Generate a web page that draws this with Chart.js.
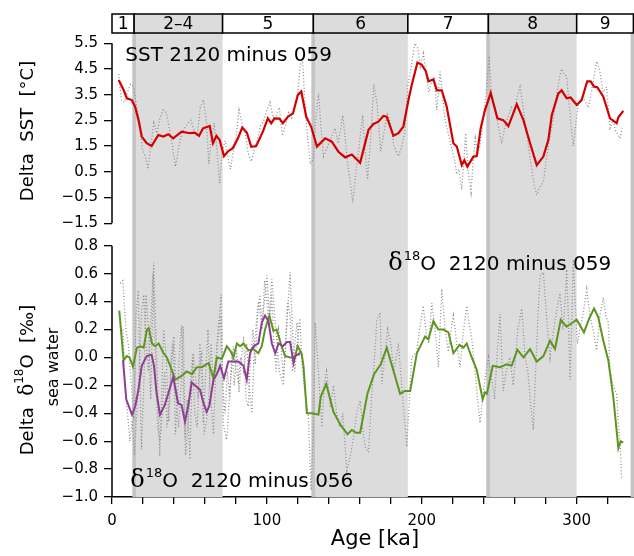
<!DOCTYPE html>
<html>
<head>
<meta charset="utf-8">
<script src="https://cdn.jsdelivr.net/npm/chart.js@4.4.1/dist/chart.umd.min.js"></script>
<style>
  body { margin: 0; background: #fff; }
  canvas { display: block; }
</style>
</head>
<body>
<canvas id="paleoChart" width="634" height="556"></canvas>
<script>
// ---------- data (age in ka, value) ----------
const sstSmooth = [[4.3,4.07],[7.5,3.68],[9.6,3.36],[12.8,3.29],[14.9,3.03],[17.1,2.52],[19.2,1.87],[22.4,1.61],[25.6,1.5],[29.9,1.93],[33.1,1.87],[36.3,1.96],[39.5,1.8],[44.9,2.06],[50.2,2.0],[53.4,2.02],[56.2,1.9],[58.8,2.19],[63.1,2.28],[65.2,1.61],[67.4,1.9],[69.5,1.74],[72.3,1.11],[74.8,1.29],[78,1.42],[81.3,1.8],[84.1,2.22],[87.1,2.02],[89.9,1.47],[93.1,1.5],[97.4,2.06],[100.6,2.58],[102.8,2.39],[104.9,2.58],[108.1,2.57],[110.3,2.39],[113.5,2.64],[116.8,2.77],[120,3.49],[122.2,3.62],[125.4,2.64],[128.6,2.25],[132.3,1.48],[137.6,1.8],[141.9,1.67],[146.2,1.28],[150.5,1.06],[154.8,1.17],[160.2,0.85],[165.6,2.13],[168.8,2.36],[172,2.45],[175.2,2.67],[177.4,2.64],[181.7,1.9],[184.9,2.0],[188.1,2.26],[191.4,3.29],[193.5,3.88],[197.2,4.75],[200,4.66],[202.6,4.41],[204.3,4.02],[207.5,4.09],[209.7,3.67],[212.9,3.67],[216.1,3.03],[220.4,1.61],[222.6,1.48],[225.8,0.76],[227.5,0.95],[229.4,0.7],[233.3,1.09],[235.5,1.11],[238,2.19],[240.8,2.9],[244.5,3.57],[248.8,2.58],[252.6,2.51],[255.9,2.28],[261.3,3.13],[265.6,2.51],[269.9,1.61],[274.2,0.76],[278.5,1.09],[281.7,1.74],[283.9,2.7],[288.1,3.54],[290.3,3.67],[293.5,3.36],[296.1,3.39],[300,3.1],[303.2,3.29],[306.8,4.02],[309,4.02],[311.2,3.81],[313.3,3.79],[317.2,3.42],[321.5,2.58],[325.8,2.39],[326.9,2.62],[330.1,2.87]];

const sstRaw = [[4.3,4.3],[6,3.3],[8,3.2],[10,3.6],[12,3.9],[14,3.8],[16,3.0],[18,2.4],[19.5,1.4],[21.5,1.1],[23.2,0.6],[25,1.5],[27,2.4],[29,2.0],[31,2.6],[33,2.9],[35,2.8],[37,2.2],[39,1.5],[41,0.7],[43,1.4],[45,2.0],[47,2.2],[49,2.4],[51,2.5],[53,2.1],[55,1.9],[57,3.0],[59,3.3],[61,2.4],[62.5,0.8],[64,1.8],[66,2.4],[68,1.2],[69.5,0.05],[71,1.2],[73,1.7],[75,1.0],[76.5,0.6],[78,1.2],[80,1.8],[82,2.9],[84,2.4],[86,2.0],[88,1.2],[90,0.9],[92,1.4],[94,1.8],[96,2.3],[98,2.5],[100,2.9],[102,3.2],[104,2.6],[106,2.7],[108,3.0],[110,1.9],[112,2.3],[114,2.8],[116,2.6],[118,3.0],[120,3.6],[121.5,4.6],[123,4.9],[124.5,3.2],[126,2.0],[128,0.8],[130,1.0],[131.5,2.5],[133.3,3.55],[135,2.2],[136.5,1.1],[138,1.3],[140,1.6],[142,1.9],[144,2.2],[146,1.6],[148,2.3],[149,2.7],[150.5,1.8],[152.2,0.8],[154,0.0],[155.4,-0.7],[157.5,0.5],[159,1.2],[161.8,2.7],[163.5,1.3],[165,0.2],[167,1.8],[169,3.9],[171,3.2],[173.5,1.3],[175.5,2.0],[177.8,2.8],[180,2.3],[182,1.5],[185,1.1],[187,1.5],[189,2.0],[191,3.9],[193,4.5],[195.5,5.5],[197.5,5.3],[199,4.6],[201,5.1],[203,4.2],[204.5,3.6],[206,3.9],[208,4.2],[209.7,2.9],[211.8,4.4],[213.5,3.4],[215,2.5],[217,2.0],[219,1.5],[221,1.0],[222.6,0.4],[224,0.6],[225.8,-0.2],[227,0.8],[228.3,2.0],[230,0.5],[231.8,-0.3],[233,0.8],[234.5,1.8],[236,1.2],[237.5,1.5],[239,2.2],[240.5,3.0],[242,3.9],[243.5,5.0],[245,3.5],[247,3.0],[249,2.4],[251.5,1.6],[253.5,2.2],[256,2.7],[258,3.0],[260,2.8],[261.5,3.4],[263.4,3.8],[265,3.2],[267,2.3],[268.6,1.6],[270.5,0.8],[272.5,0.0],[274.2,-0.4],[276,-0.1],[278.5,0.1],[280.5,1.0],[282.8,1.9],[285,2.6],[287,3.5],[289,4.2],[290.3,4.5],[292,4.3],[293.5,4.2],[295,3.2],[296.5,2.2],[297.8,1.5],[299.5,2.4],[301,3.1],[303,3.3],[305,3.3],[307.5,3.0],[309.5,3.6],[311.5,4.3],[313.1,4.8],[315,4.4],[317,3.6],[319.3,3.8],[321.5,2.2],[323.5,2.5],[325,2.1],[327,1.9],[328,1.8],[329.6,2.3]];

const d18o059Smooth = [[4.7,0.335],[7.5,-0.02],[9.6,0.01],[11.3,0.0],[13.5,-0.065],[16.1,0.07],[18.3,0.08],[20.4,0.07],[22.6,0.2],[23.7,0.21],[25.8,0.1],[27.9,0.08],[30.1,0.1],[33.3,0.03],[35.4,0.0],[37.6,-0.06],[40.8,-0.16],[45.1,-0.13],[48.3,-0.1],[51.6,-0.12],[54.8,-0.07],[58,-0.07],[62.3,-0.04],[65.5,-0.15],[67.7,0.0],[70.9,-0.01],[74.1,0.08],[76.3,0.05],[78.4,0.0],[80.6,0.1],[82.7,0.08],[84.9,0.1],[88.1,0.05],[91.3,0.06],[94.5,0.03],[96.7,0.08],[98.8,0.2],[101.6,0.3],[104.2,0.19],[106.3,0.2],[109.5,0.08],[111.7,0.01],[114.9,0.0],[118.1,0.0],[119.8,0.08],[122.4,0.03],[123.6,-0.06],[125.8,-0.4],[129,-0.4],[133.3,-0.41],[134.8,-0.28],[138.3,-0.19],[143,-0.39],[147.3,-0.48],[152,-0.55],[154.8,-0.52],[157.6,-0.54],[160.2,-0.54],[164.9,-0.26],[169.2,-0.12],[173.5,-0.05],[177.4,0.07],[186,-0.26],[189.2,-0.24],[192.5,-0.24],[196.8,0.03],[202.1,0.15],[204.3,0.13],[207.5,0.26],[210.7,0.2],[213.9,0.2],[217.2,0.18],[220.4,0.03],[224.3,0.09],[226.9,0.07],[229,0.1],[231.2,0.03],[235.5,-0.09],[239.3,-0.3],[240.8,-0.25],[242,-0.26],[245.8,-0.06],[250.5,-0.07],[254.8,-0.05],[258,-0.06],[261.7,0.055],[265.6,0.0],[269.9,0.06],[274.2,-0.03],[278.5,0.01],[282.8,0.12],[286,0.06],[289.7,0.27],[293.5,0.22],[300,0.27],[304.7,0.18],[308.1,0.28],[311.2,0.35],[313.9,0.29],[317.2,0.12],[320.4,-0.02],[323.6,-0.28],[326.9,-0.65],[328.4,-0.6],[330,-0.61]];

const d18o056Smooth = [[7.1,-0.02],[9.2,-0.3],[12.9,-0.41],[15,-0.35],[17.1,-0.23],[19.2,-0.06],[22.4,0.01],[25.6,0.02],[27.1,-0.06],[28.8,-0.26],[31,-0.41],[34.1,-0.34],[36.3,-0.26],[39.5,-0.14],[42.7,-0.33],[44.9,-0.34],[47.1,-0.46],[49.2,-0.35],[51.4,-0.18],[54.6,-0.21],[56.8,-0.23],[58.9,-0.32],[61.1,-0.39],[62.8,-0.35],[65.5,-0.16],[67.7,-0.12],[69.8,-0.06],[72.3,-0.15],[75.1,-0.03],[78.4,-0.03],[81.6,-0.03],[84.9,-0.06],[87,-0.16],[89.1,0.03],[91.3,0.08],[94.5,0.1],[96.7,0.25],[98.8,0.3],[101,0.26],[103.2,0.1],[105.4,0.03],[107.5,0.1],[110.3,0.08],[112.9,0.11],[115,0.11],[117.2,-0.04],[118.3,0.01],[121.5,0.03]];

const d18o059Raw = [[5.3,0.53],[7,0.55],[9,0.2],[10.7,0.08],[12.5,-0.2],[14,-0.45],[15.5,0.3],[17,0.48],[18,-0.1],[19,-0.66],[20.5,-0.2],[22,0.45],[23.5,0.2],[25,-0.3],[26.9,0.68],[28,0.3],[29.5,-0.2],[30.8,-0.71],[32,-0.3],[33.3,0.2],[35,0.0],[36.6,-0.46],[38,-0.1],[39.5,0.1],[41,-0.55],[42.5,-0.2],[44,0.1],[45,0.23],[46,-0.2],[47.1,-0.59],[48.5,-0.3],[50.3,-0.73],[51.5,-0.2],[52.4,0.03],[54,-0.15],[55.5,-0.3],[56.8,0.1],[58,-0.2],[58.9,-0.47],[60.5,-0.1],[62,0.2],[63.2,-0.2],[65.5,-0.55],[67,-0.1],[68.5,0.2],[70.5,0.45],[72,-0.49],[74.1,-0.59],[76.3,-0.2],[78.4,0.08],[80,-0.1],[81.6,-0.17],[83,0.0],[85,-0.1],[87,0.1],[88.5,-0.2],[90.3,-0.4],[92,0.1],[94.5,0.4],[96.7,0.25],[98.5,0.4],[100,0.59],[101.5,0.3],[103.2,0.56],[105,0.3],[106.5,0.1],[108,-0.1],[110.7,-0.2],[112.5,0.2],[115,0.61],[116.5,0.2],[118,-0.1],[119.5,0.1],[121.3,0.28],[122.4,0.0],[124,-0.2],[126.8,-0.42],[128.5,-0.95],[130,-0.5],[131.2,0.25],[133.3,-0.11],[135.5,-0.5],[137,-0.2],[138.5,-0.1],[141,-0.36],[143,-0.2],[145,-0.4],[147,-0.5],[149,-0.4],[151.6,-0.81],[153.8,-0.71],[156,-0.57],[158,-0.4],[160.2,-0.31],[161.8,-0.5],[163.4,-0.64],[165.6,-0.68],[167.5,-0.3],[169.5,0.0],[171,0.27],[173.1,0.32],[174.2,-0.19],[176,0.0],[178,0.2],[180,0.1],[182,-0.1],[184.9,0.1],[187,-0.2],[188.5,-0.4],[190.3,-0.64],[192,-0.3],[193.5,0.0],[196.8,0.04],[198.5,0.2],[201,0.37],[203,0.15],[204.5,0.1],[206.5,0.39],[208.5,0.2],[210.7,-0.07],[212.9,0.49],[215,0.2],[217.2,0.04],[219,0.2],[220.4,0.3],[222.5,0.1],[224.7,-0.07],[227,0.2],[229,0.37],[230.5,0.25],[232.3,0.13],[234.4,-0.1],[236,-0.3],[237.6,-0.47],[239.7,-0.25],[241.5,-0.1],[243,0.0],[245,-0.15],[247,-0.3],[248.5,0.0],[250.5,0.31],[252.6,-0.24],[254.5,-0.1],[256.9,0.0],[259,-0.2],[260.5,0.0],[262,0.2],[264.5,0.35],[266.7,0.0],[268.5,-0.1],[270,-0.3],[272,-0.52],[273.5,-0.1],[275,0.3],[276.3,0.58],[278.5,0.61],[280.5,0.3],[282.8,0.0],[284.5,0.15],[286.5,0.3],[289.2,0.46],[291,0.2],[292.5,0.4],[293.5,0.63],[294.6,0.3],[295.7,-0.16],[297,0.3],[297.8,0.7],[299,0.4],[300.5,0.1],[302,0.2],[304,0.3],[306.5,0.49],[308.5,0.3],[310.5,0.2],[312.9,0.05],[315,0.3],[317.2,0.43],[318.8,0.3],[320.4,0.25],[321.5,-0.1],[323.5,-0.2],[325.8,-0.26],[327,-0.5],[328,-0.6],[329,-0.87]];

const d18o056Raw = [[7,0.2],[8.5,-0.2],[10,-0.4],[11.5,-0.6],[13,-0.45],[14.5,-0.7],[16,-0.4],[17.5,-0.1],[19,0.3],[20.5,0.45],[22,0.1],[23.5,-0.1],[25,0.25],[26.5,0.6],[28,0.0],[29.5,-0.5],[31,-0.6],[32.5,-0.4],[34,-0.1],[35.5,-0.5],[37,-0.3],[38.5,0.05],[40,0.15],[41.5,-0.3],[43,-0.5],[44.5,-0.2],[46,0.22],[47.5,-0.7],[49,-0.5],[50.5,-0.2],[52,0.0],[53.5,-0.4],[55,-0.5],[56.5,-0.1],[58,0.05],[59.5,-0.55],[61,-0.45],[62.5,-0.3],[64,0.1],[65.5,-0.2],[67,0.0],[68.5,0.15],[70,0.3],[71.5,-0.2],[73,-0.4],[74.5,-0.1],[76,-0.3],[77.5,0.05],[79,-0.2],[80.5,0.05],[82,-0.25],[83.5,0.0],[85,0.15],[86.5,-0.3],[88,-0.35],[89.5,0.0],[91,0.2],[92.5,-0.05],[94,0.3],[95.5,0.45],[97,0.2],[98.5,0.55],[100,0.4],[101.5,0.2],[103,0.45],[104.5,0.1],[106,-0.1],[107.5,0.2],[109,0.1],[110.5,-0.15],[112,0.05],[113.5,0.4],[115,0.3],[116.5,-0.1],[118,0.1],[119.5,0.25],[121,0.0]];

// marine isotope stages along the top bar
const misLabels = ['1', '2\u20134', '5', '6', '7', '8', '9'];
const misEdges = [0, 14.3, 71.4, 130, 191, 243, 300, 336.6];
const misShaded = [false, true, false, true, false, true, false];

// grey glacial bands and darker termination strips
const glacialBands = [[15.5, 71.4], [131.2, 191], [244.1, 300]];
const terminationStrips = [[13.1, 15.5], [128.7, 131.2], [241.6, 244.1], [334.8, 337]];

// tick labels
const ageTicks = [0, 20, 40, 60, 80, 100, 120, 140, 160, 180, 200, 220, 240, 260, 280, 300, 320];
const sstTicks = [5.5, 4.5, 3.5, 2.5, 1.5, 0.5, -0.5, -1.5];
const d18oTicks = [0.8, 0.6, 0.4, 0.2, 0.0, -0.2, -0.4, -0.6, -0.8, -1.0];

const FONT = 'DejaVu Sans';
const toXY = pairs => pairs.map(p => ({ x: p[0], y: p[1] }));
const fmt = v => v.toFixed(1).replace('-', '\u2212');

//=============custom drawing: shading, stage bar, spines, titles====================//
const decor = {
    id: 'decor',
    beforeDatasetsDraw(chart) {
        const { ctx, chartArea, scales } = chart;
        const x = scales.x;
        ctx.save();
        ctx.fillStyle = '#dcdcdc';
        glacialBands.forEach(b => {
            const x0 = x.getPixelForValue(b[0]), x1 = x.getPixelForValue(b[1]);
            ctx.fillRect(x0, chartArea.top, x1 - x0, chartArea.bottom - chartArea.top);
        });
        ctx.fillStyle = '#c4c4c4';
        terminationStrips.forEach(b => {
            const x0 = x.getPixelForValue(b[0]), x1 = x.getPixelForValue(b[1]);
            ctx.fillRect(x0, chartArea.top, x1 - x0, chartArea.bottom - chartArea.top);
        });
        ctx.restore();
    },
    afterDraw(chart) {
        const { ctx, chartArea, scales } = chart;
        const x = scales.x, yS = scales.ySST, yO = scales.yO;
        ctx.save();

        // stage bar
        const barTop = 14, barBottom = chartArea.top;
        ctx.lineWidth = 1.5;
        ctx.strokeStyle = '#000';
        ctx.font = '17px ' + FONT;
        ctx.textAlign = 'center';
        ctx.textBaseline = 'middle';
        misLabels.forEach((lab, i) => {
            const x0 = x.getPixelForValue(misEdges[i]);
            const x1 = x.getPixelForValue(misEdges[i + 1]);
            ctx.fillStyle = misShaded[i] ? '#dcdcdc' : '#fff';
            ctx.fillRect(x0, barTop, x1 - x0, barBottom - barTop);
            ctx.strokeRect(x0, barTop, x1 - x0, barBottom - barTop);
            ctx.fillStyle = '#000';
            ctx.fillText(lab, (x0 + x1) / 2, (barTop + barBottom) / 2 + 1);
        });

        // y spines only across the tick range
        ctx.lineWidth = 1.5;
        ctx.beginPath();
        ctx.moveTo(chartArea.left, yS.getPixelForValue(sstTicks[0]));
        ctx.lineTo(chartArea.left, yS.getPixelForValue(sstTicks[sstTicks.length - 1]));
        ctx.moveTo(chartArea.left, yO.getPixelForValue(d18oTicks[0]));
        ctx.lineTo(chartArea.left, yO.getPixelForValue(d18oTicks[d18oTicks.length - 1]));
        ctx.stroke();

        // in-plot labels
        ctx.fillStyle = '#000';
        ctx.textAlign = 'left';
        ctx.textBaseline = 'alphabetic';
        ctx.font = '20px ' + FONT;
        ctx.fillText('SST 2120 minus 059', x.getPixelForValue(8.6), yS.getPixelForValue(4.81));

        function deltaLabel(px, py, rest) {
            ctx.font = '24px "DejaVu Serif"';
            ctx.fillText('\u03b4', px, py);
            let cx = px + ctx.measureText('\u03b4').width + 1;
            ctx.font = '13px ' + FONT;
            ctx.fillText('18', cx, py - 10);
            cx += ctx.measureText('18').width;
            ctx.font = '20px ' + FONT;
            ctx.fillText(rest, cx, py);
        }
        deltaLabel(x.getPixelForValue(178.3), yO.getPixelForValue(0.626), 'O  2120 minus 059');
        deltaLabel(x.getPixelForValue(11.8), yO.getPixelForValue(-0.926), 'O  2120 minus 056');

        // axis titles
        ctx.textAlign = 'center';
        ctx.textBaseline = 'middle';
        ctx.font = '21px ' + FONT;
        ctx.fillText('Age [ka]', 375, 540);

        ctx.save();
        ctx.translate(28, 131);
        ctx.rotate(-Math.PI / 2);
        ctx.font = '18px ' + FONT;
        ctx.fillText('Delta  SST  [\u00b0C]', 0, 0);
        ctx.restore();

        // Delta d18O title with superscript, drawn piecewise
        ctx.save();
        ctx.translate(28, 380);
        ctx.rotate(-Math.PI / 2);
        ctx.textAlign = 'left';
        const parts = [
            { t: 'Delta  ', f: '18px ' + FONT, dy: 0 },
            { t: '\u03b4', f: '20px "DejaVu Serif"', dy: 0 },
            { t: '18', f: '12px ' + FONT, dy: -8 },
            { t: 'O  [\u2030]', f: '18px ' + FONT, dy: 0 }
        ];
        let total = 0;
        parts.forEach(p => { ctx.font = p.f; p.w = ctx.measureText(p.t).width; total += p.w; });
        let cx = -total / 2;
        parts.forEach(p => {
            ctx.font = p.f;
            ctx.fillText(p.t, cx, p.dy);
            cx += p.w;
        });
        ctx.restore();

        ctx.save();
        ctx.translate(54, 367);
        ctx.rotate(-Math.PI / 2);
        ctx.font = '16px ' + FONT;
        ctx.fillText('sea water', 0, 0);
        ctx.restore();

        ctx.restore();
    }
};

// raw records: small grey dots
const dotted = { borderColor: '#8f8f8f', borderWidth: 1.3, borderDash: [1, 2.2], borderCapStyle: 'butt' };

// left stacked axes are laid out in reverse order, so the lower panel is listed first
new Chart(document.getElementById('paleoChart'), {
    type: 'line',
    data: {
        datasets: [
            { data: toXY(sstSmooth), yAxisID: 'ySST', borderColor: '#d40000', borderWidth: 2.2, order: 0 },
            { data: toXY(d18o056Smooth), yAxisID: 'yO', borderColor: '#8e3f94', borderWidth: 2, order: 0 },
            { data: toXY(d18o059Smooth), yAxisID: 'yO', borderColor: '#5e9422', borderWidth: 2, order: 0 },
            Object.assign({ data: toXY(sstRaw), yAxisID: 'ySST', order: 1 }, dotted),
            Object.assign({ data: toXY(d18o059Raw), yAxisID: 'yO', order: 1 }, dotted),
            Object.assign({ data: toXY(d18o056Raw), yAxisID: 'yO', order: 1 }, dotted)
        ]
    },
    options: {
        responsive: false,
        animation: false,
        devicePixelRatio: 1,
        layout: { padding: { top: 33, left: 0, right: 0, bottom: 0 } },
        elements: { point: { radius: 0 }, line: { tension: 0 } },
        plugins: { legend: { display: false }, tooltip: { enabled: false } },
        scales: {
            x: {
                type: 'linear',
                min: 0,
                max: 337,
                afterBuildTicks: scale => { scale.ticks = ageTicks.map(v => ({ value: v })); },
                afterFit: scale => { scale.height = 59; },
                ticks: {
                    color: '#000',
                    font: { family: FONT, size: 15 },
                    padding: 8,
                    maxRotation: 0,
                    autoSkip: false,
                    callback: v => (v % 100 === 0 ? String(v) : '')
                },
                grid: { drawOnChartArea: false, tickLength: 7, color: '#000', lineWidth: 1.3 },
                border: { display: true, color: '#000', width: 1.5 }
            },
            yO: {
                type: 'linear',
                position: 'left',
                stack: 'panels',
                stackWeight: 261,
                min: -1.0,
                max: 0.87,
                afterBuildTicks: scale => { scale.ticks = d18oTicks.map(v => ({ value: v })); },
                afterFit: scale => { scale.width = 112; },
                ticks: { color: '#000', font: { family: FONT, size: 15 }, padding: 6, autoSkip: false, callback: v => fmt(v) },
                grid: { drawOnChartArea: false, tickLength: 8, color: '#000', lineWidth: 1.3 },
                border: { display: false }
            },
            ySST: {
                type: 'linear',
                position: 'left',
                stack: 'panels',
                stackWeight: 203,
                min: -2.0,
                max: 5.9,
                afterBuildTicks: scale => { scale.ticks = sstTicks.map(v => ({ value: v })); },
                afterFit: scale => { scale.width = 112; },
                ticks: { color: '#000', font: { family: FONT, size: 15 }, padding: 6, autoSkip: false, callback: v => fmt(v) },
                grid: { drawOnChartArea: false, tickLength: 8, color: '#000', lineWidth: 1.3 },
                border: { display: false }
            }
        }
    },
    plugins: [decor]
});
</script>
</body>
</html>
